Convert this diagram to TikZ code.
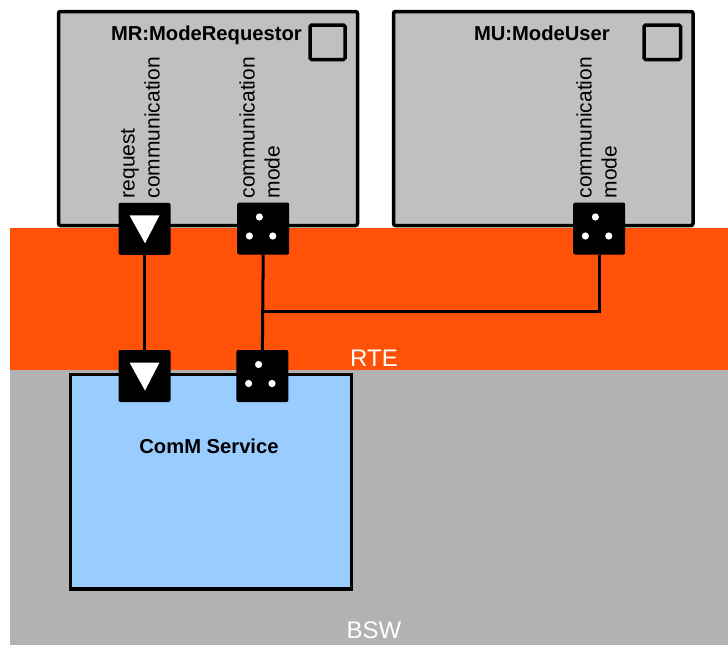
\documentclass[tikz,border=0pt]{standalone}
\usepackage{fontspec}
\setmainfont{Liberation Sans}
\definecolor{rteorange}{HTML}{FF5208}
\definecolor{bswgray}{HTML}{B2B2B2}
\definecolor{boxgray}{HTML}{C0C0C0}
\definecolor{svcblue}{HTML}{99CCFF}
\tikzset{
  swc/.style={draw=black, line width=3.5pt, fill=boxgray, rounded corners=2pt},
  marker/.style={draw=black, line width=3.5pt, fill=boxgray, rounded corners=1.5pt},
  svc/.style={draw=black, line width=3.5pt, fill=svcblue},
  portbox/.style={fill=black, rounded corners=2pt, minimum width=52pt, minimum height=52pt, inner sep=0pt, draw=none},
  title/.style={font=\fontsize{20.2}{23}\selectfont\bfseries, inner sep=0pt},
  plabel/.style={font=\fontsize{21}{25}\selectfont, rotate=90, align=left, anchor=south west, inner sep=0pt},
  layerlbl/.style={font=\fontsize{24}{28}\selectfont, text=white, inner sep=0pt},
  wire/.style={line width=3pt, draw=black},
  dotw/.style={fill=white, draw=none},
}
\begin{document}
\begin{tikzpicture}[x=1pt,y=-1pt]
\useasboundingbox (0,0) rectangle (728,645);
% layers
\fill[rteorange] (10,228) rectangle (728,370);
\fill[bswgray] (10,370) rectangle (728,645);
\node[layerlbl, anchor=base] (rte) at (374,366) {RTE};
\node[layerlbl, anchor=base] (bsw) at (374,638) {BSW};
% components
\draw[swc] (58.5,11.5) rectangle (357.5,225.5);
\draw[marker] (310,25) rectangle (345,59.5);
\node[title, anchor=base east] (mrt) at (302,40) {MR:ModeRequestor};
\draw[swc] (393.5,11.5) rectangle (693,225.5);
\draw[marker] (644,25) rectangle (680.5,59.5);
\node[title, anchor=base east] (mut) at (610,40) {MU:ModeUser};
\draw[svc] (70.5,374.5) rectangle (351.5,589);
\node[title, anchor=base] (svct) at (209,453.3) {ComM Service};
% port labels
\node[plabel] (l1) at (160,198.5) {request\\communication};
\node[plabel] (l2) at (280,198.5) {communication\\mode};
\node[plabel] (l3) at (617,198.5) {communication\\mode};
% ports
\node[portbox] (p1) at (144.5,228.8) {};
\node[portbox] (p2) at (263.2,228.5) {};
\node[portbox] (p3) at (599.2,228.5) {};
\node[portbox] (q1) at (144.5,376) {};
\node[portbox] (q2) at (262.4,376) {};
% wires
\coordinate (j) at (263.8,311);
\draw[wire] (p1.south) -- (q1.north);
\draw[wire] (p2.south) -- (q2.north);
\draw[wire] (p3.south) |- (j);
% port glyphs
\foreach \p in {p1,q1}{
  \fill[white] ([shift={(-15,-13.5)}]\p.center) -- ([shift={(15,-13.5)}]\p.center) -- ([shift={(0.5,14.5)}]\p.center) -- cycle;
}
\foreach \p in {p2,p3,q2}{
  \fill[dotw] ([shift={(-3.8,-11.5)}]\p.center) circle (3.6);
  \fill[dotw] ([shift={(-13.8,7.5)}]\p.center) circle (3.6);
  \fill[dotw] ([shift={(9.6,7.5)}]\p.center) circle (3.6);
}
\end{tikzpicture}
\end{document}
